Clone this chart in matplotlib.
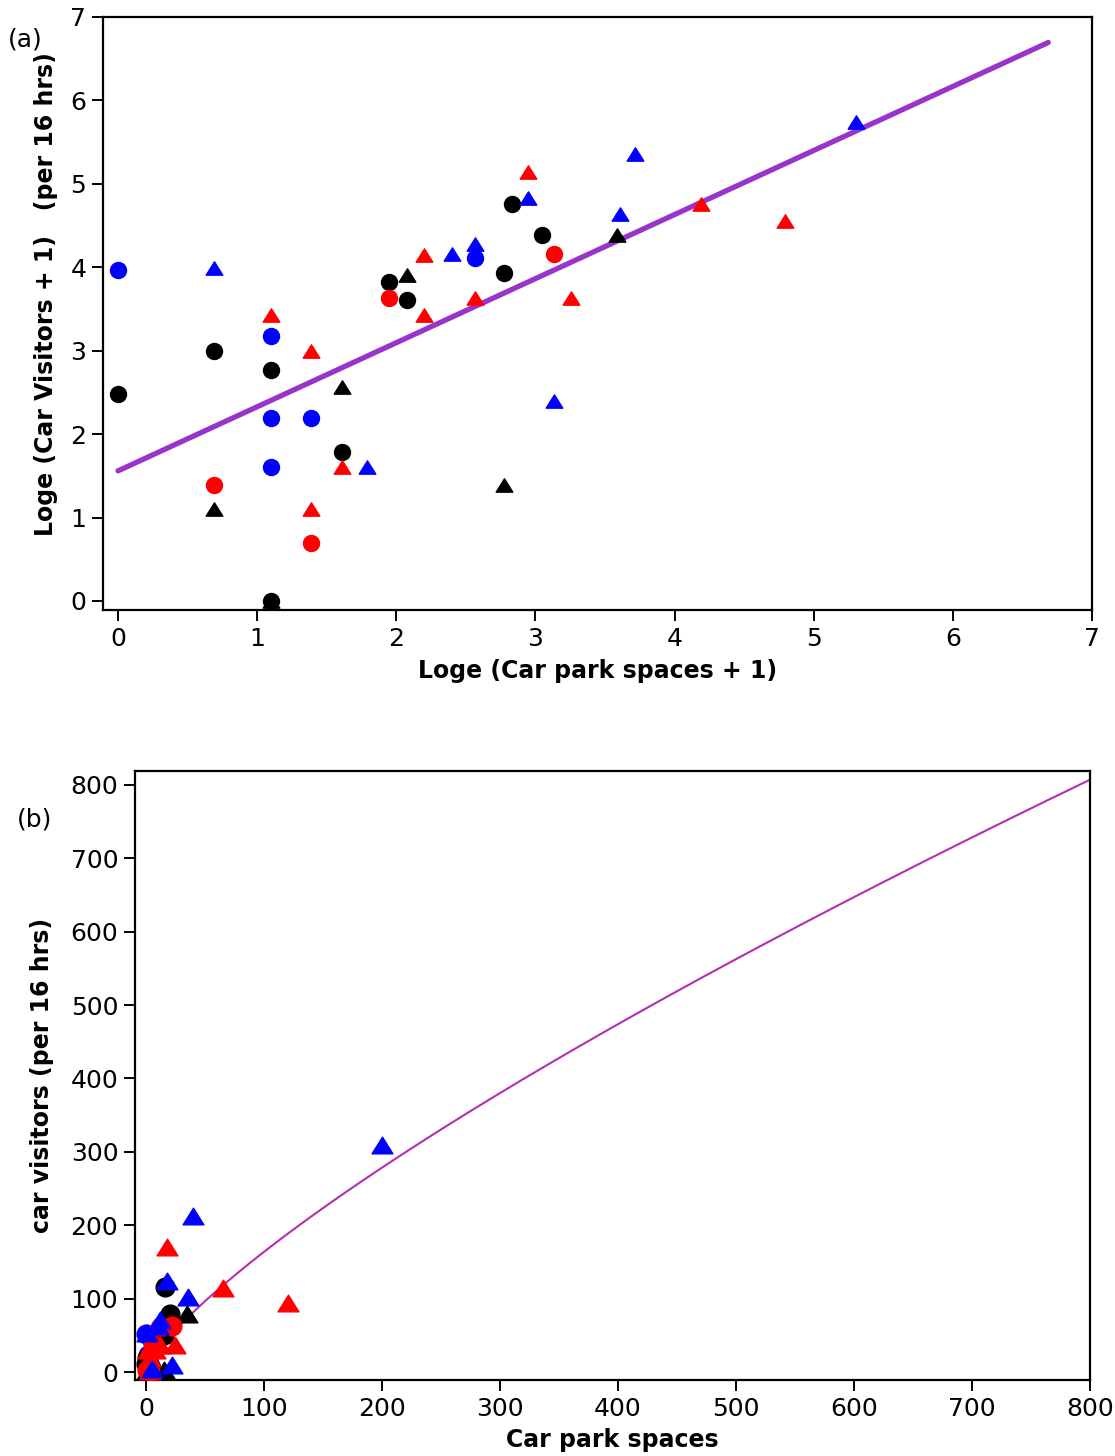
import numpy as np
import matplotlib
matplotlib.use("Agg")
import matplotlib.pyplot as plt
from matplotlib.path import Path

plt.rcParams["font.family"] = ["DejaVu Sans"]

# Raw site counts: car park spaces and car visitors (per 16 hrs)
blue_circle_spaces = [0, 2, 2, 3, 2, 12]
blue_circle_visitors = [52, 23, 8, 8, 4, 60]

black_circle_spaces = [0, 1, 2, 4, 2, 6, 7, 16, 20, 15]
black_circle_visitors = [11, 19, 15, 5, 0, 45, 36, 116, 79, 50]

red_circle_spaces = [1, 3, 6, 22]
red_circle_visitors = [3, 1, 37, 63]

blue_triangle_spaces = [1, 5, 10, 12, 18, 22, 36, 40, 200]
blue_triangle_visitors = [53, 4, 63, 71, 124, 10, 102, 212, 309]

black_triangle_spaces = [1, 2, 4, 7, 15, 35]
black_triangle_visitors = [2, 0, 12, 49, 3, 79]

red_triangle_spaces = [2, 3, 3, 4, 8, 8, 12, 18, 25, 65, 120]
red_triangle_visitors = [30, 19, 2, 4, 62, 30, 37, 170, 37, 115, 94]

# Fitted log-log model: ln(V+1) = intercept + slope * ln(S+1)
fit_intercept = 1.56
fit_slope = 0.768
fit_max_spaces = 800

# Flattened triangle marker (wider than tall)
tri = Path([(0, 0.8), (-1, -0.8), (1, -0.8), (0, 0.8)],
           [Path.MOVETO, Path.LINETO, Path.LINETO, Path.CLOSEPOLY])

groups = [
    (blue_circle_spaces, blue_circle_visitors, "#0000FF", "o"),
    (black_triangle_spaces, black_triangle_visitors, "black", "^"),
    (black_circle_spaces, black_circle_visitors, "black", "o"),
    (red_circle_spaces, red_circle_visitors, "#FF0000", "o"),
    (red_triangle_spaces, red_triangle_visitors, "#FF0000", "^"),
    (blue_triangle_spaces, blue_triangle_visitors, "#0000FF", "^"),
]

W, H = 1115, 1456
fig = plt.figure(figsize=(W / 100, H / 100), dpi=100)

tick_fs = 18
label_fs = 17

def style_axes(ax):
    for s in ax.spines.values():
        s.set_linewidth(1.6)
    ax.tick_params(direction="out", length=8, width=1.4, labelsize=tick_fs,
                   top=False, right=False, pad=4)

# ---------------- (a) log-transformed ----------------
ax1 = fig.add_axes([103 / W, 1 - 610 / H, (1092 - 103) / W, (610 - 17) / H])
style_axes(ax1)

s_grid = np.arange(0, fit_max_spaces + 1)
lx = np.log(s_grid + 1)
ly = fit_intercept + fit_slope * lx
ax1.plot(lx, ly, color="#9933CC", lw=3.8, solid_capstyle="round", zorder=2)

for sp, vi, col, mk in groups:
    x = np.log(np.array(sp) + 1)
    y = np.log(np.array(vi) + 1)
    if mk == "o":
        ax1.plot(x, y, ls="none", marker="o", ms=11.5, color=col, mec=col, zorder=3)
    else:
        ax1.plot(x, y, ls="none", marker=tri, ms=12, color=col, mec=col, zorder=3)

ax1.set_xlim(-0.108, 7.0)
ax1.set_ylim(-0.108, 7.0)
ax1.set_xticks(range(0, 8))
ax1.set_yticks(range(0, 8))
ax1.set_xlabel("Loge (Car park spaces + 1)", fontsize=label_fs, fontweight="bold", labelpad=6)
fig.text(46 / W, 1 - 294 / H, "Loge (Car Visitors + 1)   (per 16 hrs)", rotation=90,
         fontsize=label_fs, fontweight="bold", ha="center", va="center")
fig.text(8 / W, 1 - 40 / H, "(a)", fontsize=18, ha="left", va="center")

# ---------------- (b) raw scale ----------------
ax2 = fig.add_axes([135 / W, 1 - 1380 / H, (1090 - 135) / W, (1380 - 771) / H])
style_axes(ax2)

bv = np.exp(fit_intercept + fit_slope * np.log(s_grid + 1)) - 1
ax2.plot(s_grid, bv, color="#B62DB3", lw=1.5, zorder=2)

for sp, vi, col, mk in groups:
    if mk == "o":
        ax2.plot(sp, vi, ls="none", marker="o", ms=13.5, color=col, mec=col, zorder=3)
    else:
        ax2.plot(sp, vi, ls="none", marker=tri, ms=15, color=col, mec=col, zorder=3)

ax2.set_xlim(-9.3, 800)
ax2.set_ylim(-10.9, 819)
ax2.set_xticks(range(0, 801, 100))
ax2.set_yticks(range(0, 801, 100))
ax2.set_xlabel("Car park spaces", fontsize=label_fs, fontweight="bold", labelpad=5)
ax2.set_ylabel("car visitors (per 16 hrs)", fontsize=label_fs, fontweight="bold", labelpad=12)
fig.text(17 / W, 1 - 820 / H, "(b)", fontsize=18, ha="left", va="center")

fig.savefig("out.png", dpi=100)
